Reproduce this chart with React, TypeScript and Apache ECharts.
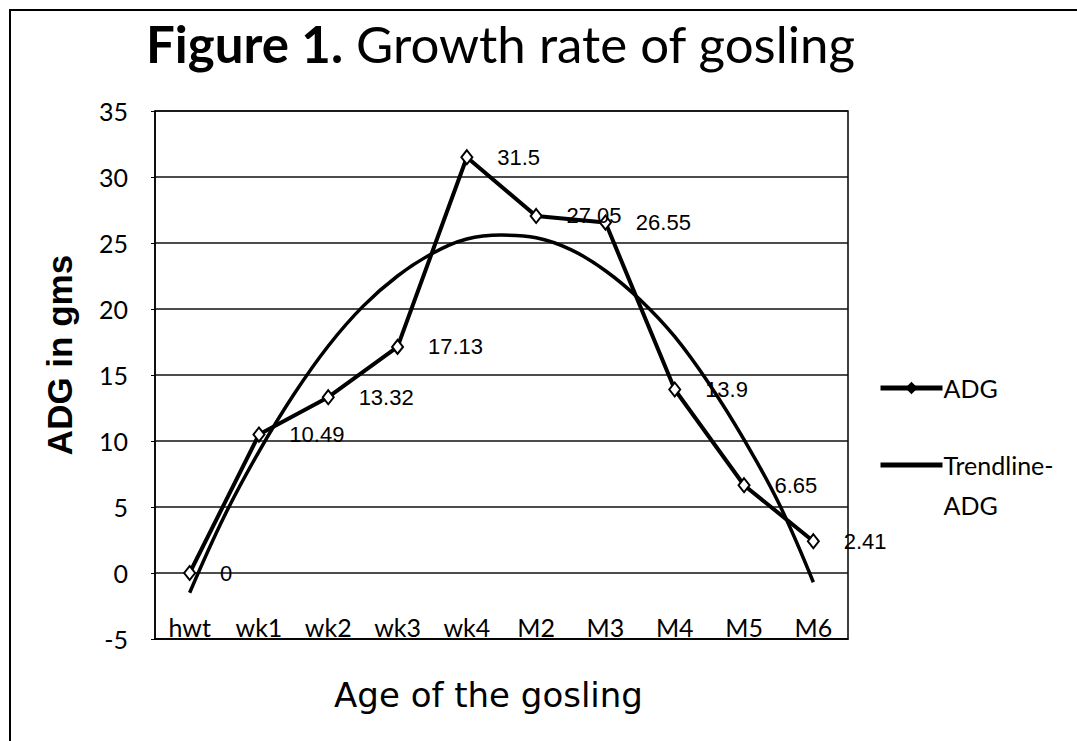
import React, { useEffect, useRef } from "react";
import * as echarts from "echarts";

const categories = ["hwt", "wk1", "wk2", "wk3", "wk4", "M2", "M3", "M4", "M5", "M6"];
const adgValues = [0, 10.49, 13.32, 17.13, 31.5, 27.05, 26.55, 13.9, 6.65, 2.41];
// trendline at every half category step
const trendX = [0, 0.5, 1, 1.5, 2, 2.5, 3, 3.5, 4, 4.5, 5, 5.5, 6, 6.5, 7, 7.5, 8, 8.5, 9];
const trendY = [-1.5, 4.3, 9.2, 13.5, 17.2, 20.2, 22.5, 24.2, 25.3, 25.6, 25.4, 24.5, 22.9, 20.7, 17.9, 14.3, 10.1, 5.3, -0.7];
const yTicks = { min: -5, max: 35, interval: 5 };

export default function App() {
  const ref = useRef<HTMLDivElement>(null);
  useEffect(() => {
    if (!ref.current) return;
    const chart = echarts.init(ref.current, null, { renderer: "svg" });
    chart.setOption({
      animation: false,
      backgroundColor: "#fff",
      title: {
        text: "{b|Figure 1.} Growth rate of gosling",
        left: 141,
        top: 13,
        textStyle: {
          fontFamily: "Lato",
          fontSize: 51,
          fontWeight: "normal",
          color: "#000",
          rich: {
            b: { fontFamily: "Lato", fontSize: 51, fontWeight: "bold", color: "#000" },
          },
        },
      },
      legend: {
        orient: "vertical",
        left: 873,
        top: 363,
        itemWidth: 62,
        itemHeight: 12,
        itemGap: -3,
        textStyle: { fontFamily: "Lato", fontSize: 25, color: "#000", lineHeight: 40, padding: [0, 0, 0, -4] },
        formatter: (name: string) => (name === "Trendline-ADG" ? " \nTrendline-\nADG" : name),
        data: [
          {
            name: "ADG",
            itemStyle: { color: "#000", borderColor: "#000" },
            lineStyle: { width: 5, color: "#000" },
          },
          {
            name: "Trendline-ADG",
            itemStyle: { color: "rgba(0,0,0,0)", borderWidth: 0, opacity: 0 },
            lineStyle: { width: 5, color: "#000" },
          },
        ],
      },
      grid: {
        left: 155,
        top: 111,
        right: 229,
        bottom: 102,
        show: true,
        borderColor: "#000",
        borderWidth: 1.5,
      },
      xAxis: [
        {
          type: "category",
          data: categories,
          boundaryGap: true,
          name: "Age of the gosling",
          nameLocation: "middle",
          nameGap: 56,
          nameTextStyle: {
            fontFamily: "DejaVu Sans",
            fontSize: 34,
            color: "#000",
            verticalAlign: "middle",
            padding: [0, 26, 0, 0],
          },
          axisLine: { show: true, onZero: false, lineStyle: { color: "#000", width: 1.5 } },
          axisTick: { show: false },
          axisLabel: {
            inside: true,
            margin: 0,
            fontFamily: "Lato",
            fontSize: 25,
            color: "#000",
          },
        },
        {
          type: "value",
          min: -0.5,
          max: 9.5,
          show: false,
          position: "bottom",
          axisLine: { show: false, onZero: false },
          splitLine: { show: false },
        },
      ],
      yAxis: {
        type: "value",
        min: yTicks.min,
        max: yTicks.max,
        interval: yTicks.interval,
        name: "ADG in gms",
        nameLocation: "middle",
        nameGap: 78,
        nameRotate: 90,
        nameTextStyle: {
          fontFamily: "Liberation Sans",
          fontSize: 35,
          fontWeight: "bold",
          color: "#000",
          padding: [0, 0, 0, 40],
        },
        axisLine: { show: true, onZero: false, lineStyle: { color: "#000", width: 1.5 } },
        axisTick: { show: true, length: 4, lineStyle: { color: "#000" } },
        axisLabel: {
          margin: 27,
          fontFamily: "Lato",
          fontSize: 25,
          color: "#000",
        },
        splitLine: { show: true, lineStyle: { color: "#111", width: 1.5 } },
      },
      graphic: [
        {
          type: "rect",
          shape: { x: 10, y: 10, width: 1200, height: 900 },
          style: { fill: "none", stroke: "#000", lineWidth: 2 },
          silent: true,
        },
      ],
      series: [
        {
          name: "Trendline-ADG",
          type: "line",
          xAxisIndex: 1,
          data: trendX.map((x, i) => [x, trendY[i]]),
          smooth: 0.4,
          showSymbol: false,
          symbol: "none",
          lineStyle: { color: "#000", width: 3.5 },
          itemStyle: { color: "#000" },
          z: 2,
        },
        {
          name: "ADG",
          type: "line",
          xAxisIndex: 0,
          data: adgValues,
          symbol: "diamond",
          symbolSize: [11, 14],
          lineStyle: { color: "#000", width: 4 },
          itemStyle: { color: "#fff", borderColor: "#000", borderWidth: 2 },
          label: {
            show: true,
            position: "right",
            distance: 24,
            fontFamily: "Liberation Sans",
            fontSize: 22,
            color: "#000",
          },
          z: 3,
        },
      ],
    });
    return () => chart.dispose();
  }, []);
  return (
    <div
      ref={ref}
      style={{ position: "absolute", left: 0, top: 0, width: 1077, height: 741 }}
    />
  );
}
